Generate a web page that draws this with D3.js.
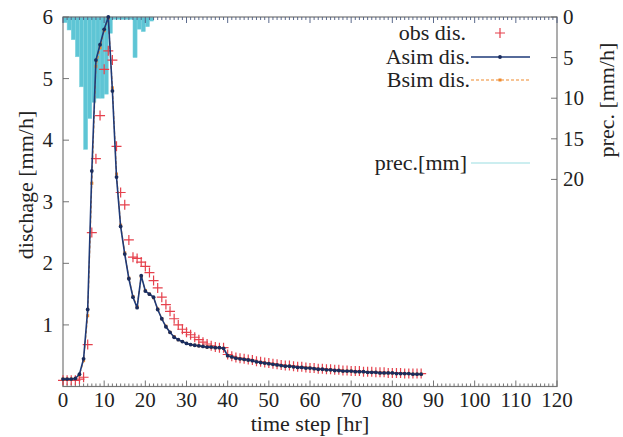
<!DOCTYPE html>
<html><head><meta charset="utf-8">
<script src="https://cdn.jsdelivr.net/npm/d3@7"></script>
<style>html,body{margin:0;padding:0;background:#fff;}svg{display:block;font-family:"Liberation Serif","Times New Roman",serif;}</style>
</head><body>
<svg id="chart" width="623" height="437"></svg>
<script>
// ---- data ----
const timeSteps = d3.range(0, 88);
const obsDis = [0.1,0.1,0.1,0.1,0.12,0.15,0.68,2.5,3.7,4.4,5.15,5.45,5.3,3.9,3.15,2.95,2.38,2.1,2.08,2.02,1.95,1.85,1.72,1.6,1.45,1.33,1.22,1.1,1.0,0.93,0.88,0.84,0.8,0.76,0.72,0.69,0.66,0.64,0.63,0.63,0.52,0.49,0.47,0.46,0.45,0.44,0.43,0.41,0.4,0.39,0.38,0.37,0.36,0.35,0.34,0.34,0.33,0.32,0.32,0.31,0.3,0.3,0.29,0.29,0.28,0.28,0.27,0.27,0.26,0.26,0.25,0.25,0.25,0.24,0.24,0.24,0.23,0.23,0.23,0.22,0.22,0.22,0.22,0.21,0.21,0.21,0.21,0.21];
const asimDis = [0.12,0.12,0.12,0.13,0.2,0.45,1.25,3.5,5.3,5.55,5.8,6.0,4.8,3.4,2.6,2.15,1.75,1.45,1.28,1.8,1.55,1.5,1.45,1.25,1.1,0.97,0.88,0.8,0.76,0.73,0.7,0.68,0.67,0.66,0.65,0.64,0.64,0.63,0.63,0.62,0.5,0.48,0.46,0.45,0.44,0.43,0.42,0.4,0.39,0.38,0.37,0.36,0.35,0.34,0.33,0.33,0.32,0.31,0.31,0.3,0.3,0.29,0.28,0.28,0.27,0.27,0.26,0.26,0.25,0.25,0.25,0.24,0.24,0.24,0.23,0.23,0.23,0.22,0.22,0.22,0.22,0.21,0.21,0.21,0.21,0.2,0.2,0.2];
const bsimDis = [0.12,0.12,0.12,0.13,0.19,0.42,1.15,3.3,5.2,5.5,5.78,5.98,4.85,3.45,2.62,2.17,1.76,1.46,1.3,1.78,1.56,1.5,1.44,1.26,1.1,0.98,0.88,0.81,0.76,0.73,0.7,0.68,0.67,0.66,0.65,0.64,0.64,0.63,0.63,0.62,0.5,0.48,0.46,0.45,0.44,0.43,0.42,0.4,0.39,0.38,0.37,0.36,0.35,0.34,0.33,0.33,0.32,0.31,0.31,0.3,0.3,0.29,0.28,0.28,0.27,0.27,0.26,0.26,0.25,0.25,0.25,0.24,0.24,0.24,0.23,0.23,0.23,0.22,0.22,0.22,0.22,0.21,0.21,0.21,0.21,0.2,0.2,0.2];
const precHours = d3.range(0, 22);
const precMm = [0.7,1.6,2.8,4.9,8.6,16.3,12.5,10.5,10,10,9.5,2,0.3,0.3,0.3,0.3,0.3,5.0,1.5,1.8,1.2,0.5];
const xTicks = [0,10,20,30,40,50,60,70,80,90,100,110,120];
const yTicks = [1,2,3,4,5,6];
const y2Ticks = [0,5,10,15,20];
const legendLabels = ["obs dis.","Asim dis.","Bsim dis.","prec.[mm]"];

// ---- layout ----
const L = 63, R = 557, T = 17, B = 386.5;
const svg = d3.select("#chart");
const x = d3.scaleLinear().domain([0,120]).range([L,R]);
const y = d3.scaleLinear().domain([0,6]).range([B,T]);
const yP = d3.scaleLinear().domain([0,45.5]).range([T,B]);

const cAsim = "#1e3a78", cObs = "#e5404c", cBsim = "#f0892c", cPrec = "#5ec5d5";

// precipitation bars
svg.append("g").selectAll("rect").data(precHours).join("rect")
  .attr("x", d => x(d)).attr("width", d => x(d+1) - x(d))
  .attr("y", T).attr("height", (d,i) => yP(precMm[i]) - T)
  .attr("fill", cPrec).attr("stroke", "#7fd3de").attr("stroke-width", 0.5);

// frame
svg.append("rect").attr("x", L).attr("y", T).attr("width", R-L).attr("height", B-T)
  .attr("fill","none").attr("stroke","#777").attr("stroke-width",1.2);

// x ticks (bottom + top, inward), minor every 1
const g = svg.append("g").attr("stroke","#666").attr("stroke-width",0.9);
d3.range(0,121).forEach(v => {
  const major = v % 10 === 0;
  const len = major ? 6 : 3;
  g.append("line").attr("x1",x(v)).attr("x2",x(v)).attr("y1",B).attr("y2",B-len);
  g.append("line").attr("x1",x(v)).attr("x2",x(v)).attr("y1",T).attr("y2",T+len).attr("stroke","#4a5a80");
});
yTicks.forEach(v => {
  g.append("line").attr("x1",L).attr("x2",L+6).attr("y1",y(v)).attr("y2",y(v));
});
y2Ticks.forEach(v => {
  g.append("line").attr("x1",R).attr("x2",R-6).attr("y1",yP(v)).attr("y2",yP(v));
});

// tick labels
const fs = 21;
svg.append("g").selectAll("text").data(xTicks).join("text")
  .attr("x", d => x(d)).attr("y", 407).attr("text-anchor","middle")
  .attr("font-size", fs).attr("fill","#222").text(d => d);
svg.append("g").selectAll("text").data(yTicks).join("text")
  .attr("x", 53).attr("y", d => y(d) + 7).attr("text-anchor","end")
  .attr("font-size", fs).attr("fill","#222").text(d => d);
svg.append("g").selectAll("text").data(y2Ticks).join("text")
  .attr("x", 563).attr("y", d => yP(d) + 7).attr("text-anchor","start")
  .attr("font-size", fs).attr("fill","#222").text(d => d);

// axis titles
svg.append("text").attr("x", (L+R)/2).attr("y", 431).attr("text-anchor","middle")
  .attr("font-size", 22).attr("fill","#222").text("time step [hr]");
svg.append("text").attr("transform","translate(33,185) rotate(-90)").attr("text-anchor","middle")
  .attr("font-size", 22).attr("fill","#222").text("dischage [mm/h]");
svg.append("text").attr("transform","translate(614,100) rotate(-90)").attr("text-anchor","middle")
  .attr("font-size", 22).attr("fill","#222").text("prec. [mm/h]");

// series
const plus = (sel, s) => sel.attr("d", `M${-s},0H${s}M0,${-s}V${s}`);
svg.append("g").selectAll("path").data(timeSteps).join("path")
  .attr("transform", (d,i) => `translate(${x(d)},${y(obsDis[i])})`)
  .call(plus, 5).attr("stroke", cObs).attr("stroke-width", 1.2).attr("fill","none");

const line = arr => d3.line().x((d,i) => x(d)).y((d,i) => y(arr[i]))(timeSteps);
svg.append("path").attr("d", line(bsimDis)).attr("fill","none")
  .attr("stroke", cBsim).attr("stroke-width",1.2).attr("stroke-dasharray","3,2");
svg.append("g").selectAll("rect").data(timeSteps).join("rect")
  .attr("x", (d) => x(d) - 1.5).attr("y", (d,i) => y(bsimDis[i]) - 1.5)
  .attr("width",3).attr("height",3).attr("fill", cBsim);

svg.append("path").attr("d", line(asimDis)).attr("fill","none")
  .attr("stroke", cAsim).attr("stroke-width",1.6);
svg.append("g").selectAll("circle").data(timeSteps).join("circle")
  .attr("cx", d => x(d)).attr("cy", (d,i) => y(asimDis[i])).attr("r",1.9).attr("fill","#1a2c5c");

// legend
const lg = svg.append("g").attr("font-size", 22).attr("fill","#222");
const ly = [33, 57, 80, 163];
const lx = [466, 470, 470, 467];
legendLabels.forEach((t,i) => {
  lg.append("text").attr("x", lx[i]).attr("y", ly[i] + 7).attr("text-anchor","end").text(t);
});
lg.append("path").attr("transform",`translate(500,${ly[0]})`).call(plus,5)
  .attr("stroke", cObs).attr("stroke-width",1.2);
lg.append("line").attr("x1",471).attr("x2",530).attr("y1",ly[1]).attr("y2",ly[1])
  .attr("stroke",cAsim).attr("stroke-width",1.6);
lg.append("circle").attr("cx",500).attr("cy",ly[1]).attr("r",1.9).attr("fill","#1a2c5c");
lg.append("line").attr("x1",471).attr("x2",530).attr("y1",ly[2]).attr("y2",ly[2])
  .attr("stroke",cBsim).attr("stroke-width",1.2).attr("stroke-dasharray","3,2");
lg.append("rect").attr("x",498.5).attr("y",ly[2]-1.5).attr("width",3).attr("height",3).attr("fill",cBsim);
lg.append("line").attr("x1",471).attr("x2",530).attr("y1",ly[3]).attr("y2",ly[3])
  .attr("stroke","#9adde2").attr("stroke-width",1.2);
</script>
</body></html>
